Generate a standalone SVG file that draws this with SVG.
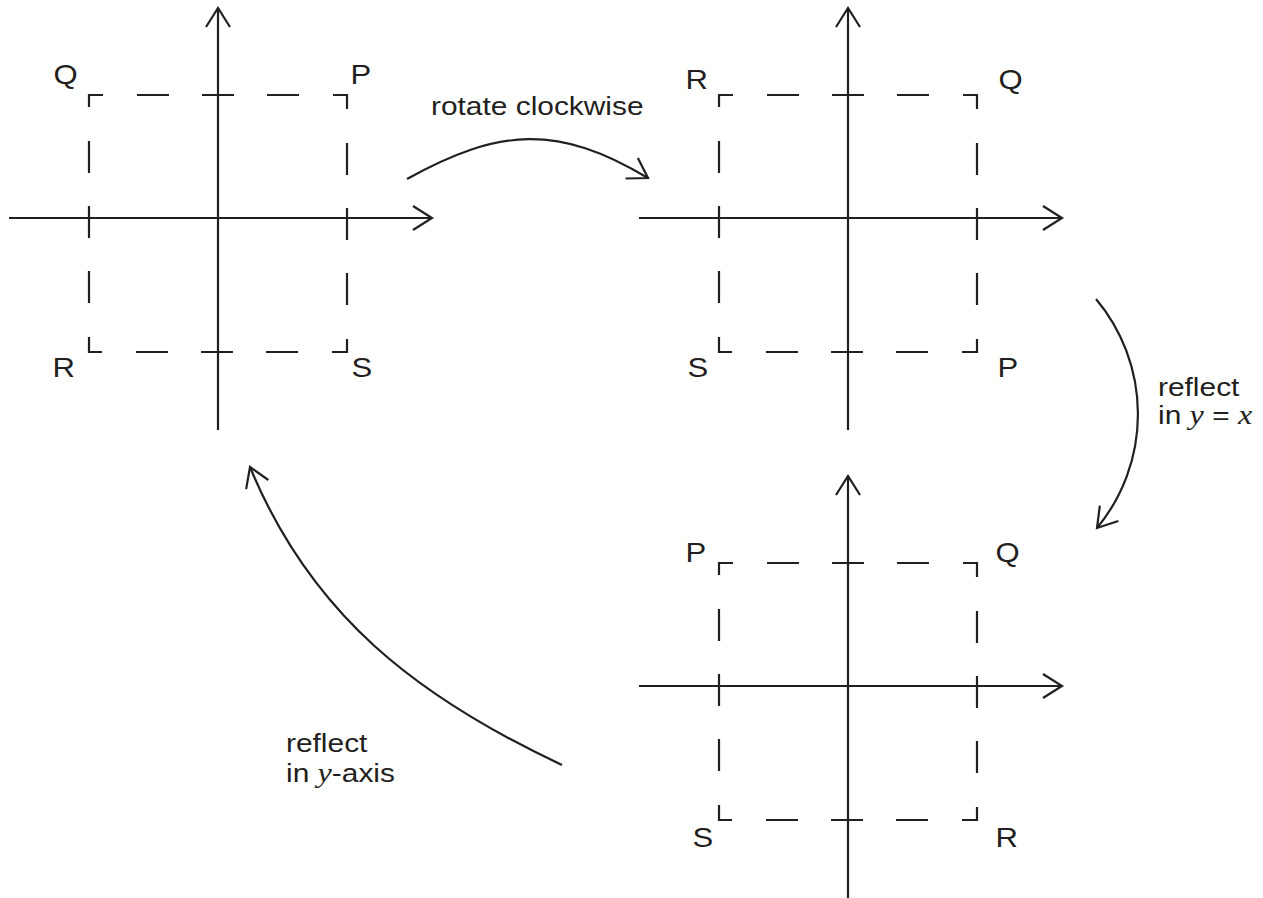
<svg xmlns="http://www.w3.org/2000/svg" width="1263" height="898" viewBox="0 0 1263 898">
<style>
.ln{fill:none;stroke:#231f20;stroke-width:2.2}
.ax{marker-end:url(#ah)}
.sq{stroke-dasharray:32 33 32 33 32 34 28 34;stroke-dashoffset:224;stroke-linejoin:miter}
.lb{font-family:"Liberation Sans",Arial,sans-serif;font-size:27px;fill:#231f20}
.tx{font-family:"Liberation Sans",Arial,sans-serif;font-size:26px;fill:#231f20}
.it{font-family:"Liberation Serif","Times New Roman",serif;font-style:italic;font-size:28px}
</style>
<defs>
<marker id="ah" markerUnits="userSpaceOnUse" viewBox="-24 -14 28 28" refX="0" refY="0" markerWidth="28" markerHeight="28" orient="auto" overflow="visible">
<path d="M-19,-12 L0,0 L-19,12" fill="none" stroke="#231f20" stroke-width="2.2"/>
</marker>
<g id="frame">
<path class="ln ax" d="M218,430 V8"/>
<path class="ln ax" d="M9,218 H432"/>
<path class="ln sq" d="M103,95 H347 V352 H89 V95 H103"/>
</g>
</defs>
<rect width="1263" height="898" fill="#ffffff"/>

<g id="diagram-original">
<use href="#frame"/>
<text class="lb" transform="translate(53.5,84) scale(1.15,1)">Q</text>
<text class="lb" transform="translate(350.6,84) scale(1.15,1)">P</text>
<text class="lb" transform="translate(52.5,377) scale(1.15,1)">R</text>
<text class="lb" transform="translate(351.5,377) scale(1.15,1)">S</text>
</g>

<g id="diagram-rotated">
<use href="#frame" transform="translate(630,0)"/>
<text class="lb" transform="translate(685.5,89) scale(1.15,1)">R</text>
<text class="lb" transform="translate(998.5,89) scale(1.15,1)">Q</text>
<text class="lb" transform="translate(687.5,377) scale(1.15,1)">S</text>
<text class="lb" transform="translate(997.6,377) scale(1.15,1)">P</text>
</g>

<g id="diagram-reflected">
<use href="#frame" transform="translate(630,468)"/>
<text class="lb" transform="translate(685.6,562) scale(1.15,1)">P</text>
<text class="lb" transform="translate(995.5,562) scale(1.15,1)">Q</text>
<text class="lb" transform="translate(692.5,847) scale(1.15,1)">S</text>
<text class="lb" transform="translate(995.5,847) scale(1.15,1)">R</text>
</g>

<g id="connectors">
<path class="ln ax" d="M407,179 C499,128 558,124 648,178"/>
<path class="ln ax" d="M1096,299 A179,179 0 0 1 1097,528"/>
<path class="ln ax" d="M562,765 C417,697 311,615 250,467"/>
</g>

<g id="labels">
<text class="tx" font-size="25.3" transform="translate(431,115) scale(1.15,1)">rotate clockwise</text>
<text class="tx" transform="translate(1158,396) scale(1.15,1)">reflect</text>
<text class="tx" transform="translate(1158,424) scale(1.15,1)">in <tspan class="it">y</tspan> = <tspan class="it">x</tspan></text>
<text class="tx" transform="translate(286,752) scale(1.15,1)">reflect</text>
<text class="tx" transform="translate(286,782) scale(1.15,1)">in <tspan class="it">y</tspan>-axis</text>
</g>
</svg>
